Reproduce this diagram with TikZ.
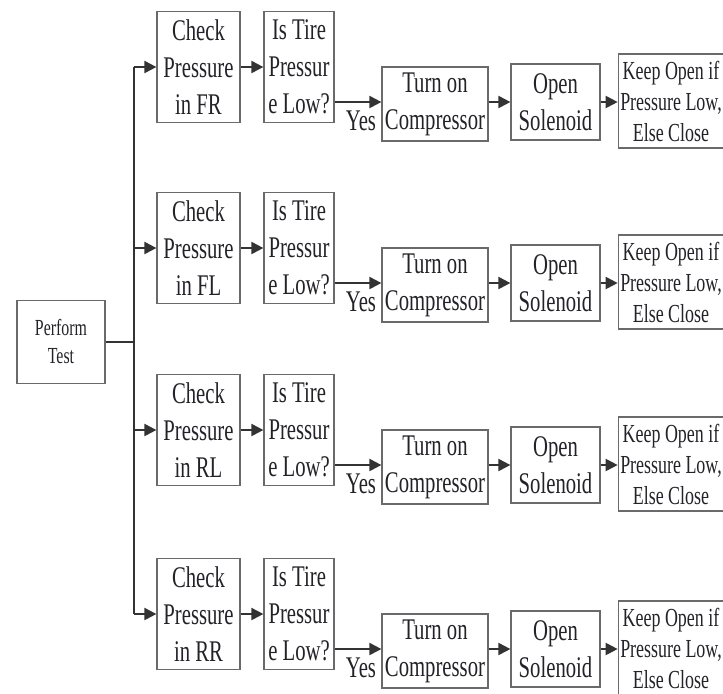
\documentclass[tikz,border=0pt]{standalone}
\usepackage{fontspec}
\setmainfont[FakeStretch=0.69]{Liberation Serif}
\usetikzlibrary{calc,positioning,arrows.meta}
\definecolor{BoxLine}{HTML}{6A6A6A}
\definecolor{WireGray}{HTML}{333333}
\definecolor{InkText}{HTML}{222228}

\tikzset{
  box/.style={draw=BoxLine, line width=0.6pt, align=center, inner sep=1pt,
    text=InkText, font=\fontsize{15}{18.5}\selectfont},
  wire/.style={draw=WireGray, line width=1pt},
  arr/.style={wire, -{Triangle[length=6pt,width=6pt]}},
  yeslabel/.style={text=InkText, font=\fontsize{15}{18.5}\selectfont, inner sep=1pt}
}

\begin{document}
\begin{tikzpicture}[x=0.5pt, y=-0.5pt]
  \useasboundingbox (0,0) rectangle (723,693);

  \node[box, font=\fontsize{11.5}{14}\selectfont, minimum width=44pt, minimum height=41.5pt]
    (perf) at (61,342) {Perform\\Test};

  \foreach \r/\y/\wheel in {1/67/FR, 2/248/FL, 3/430/RL, 4/614/RR} {
    \coordinate (bus\r) at (134,\y);
    \node[box, minimum width=41.5pt, minimum height=55.5pt]
      (chk\r) at (198.5,\y) {Check\\Pressure\\in \wheel};
    \node[box, minimum width=35pt, minimum height=55.5pt]
      (tire\r) at (299,\y) {Is Tire\\Pressur\\e Low?};
    \node[box, minimum width=53pt, minimum height=37pt]
      (turn\r) at (435,\y+37) {Turn on\\Compressor};
    \node[box, minimum width=44.5pt, minimum height=38pt]
      (open\r) at (555.5,\y+35) {Open\\Solenoid};
    \node[box, font=\fontsize{13}{15.5}\selectfont, minimum width=50pt, minimum height=47pt]
      (keep\r) at (671,\y+34) {Keep Open if\\Pressure Low,\\Else Close};
    \node[yeslabel, anchor=south east] (yes\r) at ($(turn\r.south west)+(-3,-8)$) {Yes};

    \draw[arr] (bus\r) -- (chk\r);
    \draw[arr] (chk\r) -- (tire\r);
    \draw[arr] ($(tire\r.east)+(0,35)$) -- (turn\r.west |- {$(tire\r.east)+(0,35)$});
    \draw[arr] (turn\r.east |- open\r) -- (open\r);
    \draw[arr] (open\r) -- (keep\r.west |- open\r);
  }

  % bus from the test box to the four wheels
  \draw[wire] (bus1) -- (bus4);
  \draw[wire] (perf.east) -- (perf.east -| bus1);
\end{tikzpicture}
\end{document}
